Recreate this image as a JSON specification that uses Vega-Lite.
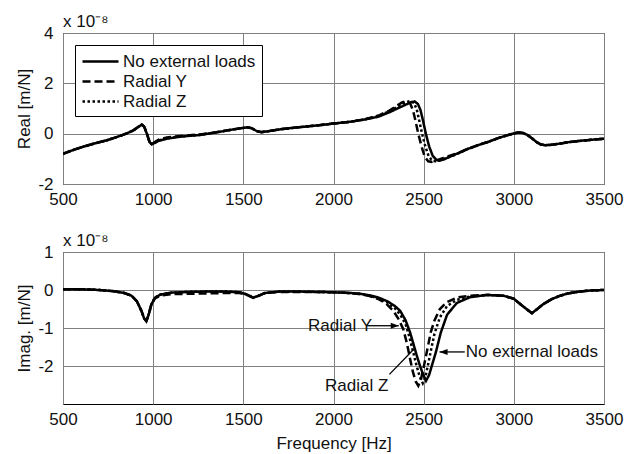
{
  "$schema": "https://vega.github.io/schema/vega-lite/v6.json",
  "background": "white",
  "padding": {"left": 15, "top": 12, "right": 5, "bottom": 3},
  "spacing": 23,
  "config": {
    "font": "Liberation Sans",
    "view": {"stroke": "black", "strokeWidth": 1},
    "axis": {
      "grid": true, "gridColor": "#808080", "gridWidth": 1, "gridOpacity": 1,
      "domain": false, "ticks": false,
      "labelFont": "Liberation Sans", "labelFontSize": 17, "labelColor": "#111",
      "titleFont": "Liberation Sans", "titleFontSize": 17, "titleFontWeight": "normal", "titleColor": "#111",
      "labelFlush": false, "labelOverlap": false, "labelExpr": "toString(datum.value)"
    },
    "title": {"font": "Liberation Sans", "fontSize": 17, "fontWeight": "normal", "color": "#111", "anchor": "start", "frame": "group", "offset": 4, "dy": 11}
  },
  "datasets": {
    "real": [
      {"s": "Radial Z", "f": 500, "v": -0.8}, {"s": "Radial Z", "f": 560, "v": -0.64}, {"s": "Radial Z", "f": 620, "v": -0.5}, {"s": "Radial Z", "f": 680, "v": -0.38}, {"s": "Radial Z", "f": 740, "v": -0.27}, {"s": "Radial Z", "f": 800, "v": -0.13}, {"s": "Radial Z", "f": 850, "v": 0.0}, {"s": "Radial Z", "f": 890, "v": 0.13}, {"s": "Radial Z", "f": 920, "v": 0.28}, {"s": "Radial Z", "f": 937, "v": 0.36}, {"s": "Radial Z", "f": 950, "v": 0.28}, {"s": "Radial Z", "f": 965, "v": 0.0}, {"s": "Radial Z", "f": 980, "v": -0.33}, {"s": "Radial Z", "f": 992, "v": -0.42}, {"s": "Radial Z", "f": 1005, "v": -0.37}, {"s": "Radial Z", "f": 1030, "v": -0.27}, {"s": "Radial Z", "f": 1075, "v": -0.18}, {"s": "Radial Z", "f": 1150, "v": -0.11}, {"s": "Radial Z", "f": 1260, "v": -0.05}, {"s": "Radial Z", "f": 1350, "v": 0.05}, {"s": "Radial Z", "f": 1445, "v": 0.17}, {"s": "Radial Z", "f": 1490, "v": 0.22}, {"s": "Radial Z", "f": 1520, "v": 0.25}, {"s": "Radial Z", "f": 1545, "v": 0.22}, {"s": "Radial Z", "f": 1575, "v": 0.1}, {"s": "Radial Z", "f": 1600, "v": 0.06}, {"s": "Radial Z", "f": 1640, "v": 0.1}, {"s": "Radial Z", "f": 1720, "v": 0.19}, {"s": "Radial Z", "f": 1800, "v": 0.25}, {"s": "Radial Z", "f": 1900, "v": 0.32}, {"s": "Radial Z", "f": 2000, "v": 0.4}, {"s": "Radial Z", "f": 2100, "v": 0.48}, {"s": "Radial Z", "f": 2180, "v": 0.58}, {"s": "Radial Z", "f": 2250, "v": 0.7}, {"s": "Radial Z", "f": 2310, "v": 0.89}, {"s": "Radial Z", "f": 2360, "v": 1.08}, {"s": "Radial Z", "f": 2395, "v": 1.23}, {"s": "Radial Z", "f": 2425, "v": 1.3}, {"s": "Radial Z", "f": 2447, "v": 1.22}, {"s": "Radial Z", "f": 2462, "v": 0.95}, {"s": "Radial Z", "f": 2476, "v": 0.5}, {"s": "Radial Z", "f": 2491, "v": 0.0}, {"s": "Radial Z", "f": 2509, "v": -0.5}, {"s": "Radial Z", "f": 2528, "v": -0.9}, {"s": "Radial Z", "f": 2548, "v": -1.08}, {"s": "Radial Z", "f": 2565, "v": -1.1}, {"s": "Radial Z", "f": 2590, "v": -1.06}, {"s": "Radial Z", "f": 2630, "v": -0.96}, {"s": "Radial Z", "f": 2670, "v": -0.85}, {"s": "Radial Z", "f": 2700, "v": -0.76}, {"s": "Radial Z", "f": 2740, "v": -0.62}, {"s": "Radial Z", "f": 2800, "v": -0.46}, {"s": "Radial Z", "f": 2860, "v": -0.32}, {"s": "Radial Z", "f": 2920, "v": -0.16}, {"s": "Radial Z", "f": 2970, "v": -0.05}, {"s": "Radial Z", "f": 3000, "v": 0.01}, {"s": "Radial Z", "f": 3025, "v": 0.05}, {"s": "Radial Z", "f": 3050, "v": 0.03}, {"s": "Radial Z", "f": 3075, "v": -0.05}, {"s": "Radial Z", "f": 3100, "v": -0.18}, {"s": "Radial Z", "f": 3125, "v": -0.33}, {"s": "Radial Z", "f": 3150, "v": -0.43}, {"s": "Radial Z", "f": 3175, "v": -0.46}, {"s": "Radial Z", "f": 3210, "v": -0.44}, {"s": "Radial Z", "f": 3260, "v": -0.39}, {"s": "Radial Z", "f": 3300, "v": -0.34}, {"s": "Radial Z", "f": 3360, "v": -0.29}, {"s": "Radial Z", "f": 3420, "v": -0.25}, {"s": "Radial Z", "f": 3500, "v": -0.2},

      {"s": "Radial Y", "f": 500, "v": -0.8}, {"s": "Radial Y", "f": 560, "v": -0.64}, {"s": "Radial Y", "f": 620, "v": -0.5}, {"s": "Radial Y", "f": 680, "v": -0.38}, {"s": "Radial Y", "f": 740, "v": -0.27}, {"s": "Radial Y", "f": 800, "v": -0.13}, {"s": "Radial Y", "f": 850, "v": 0.0}, {"s": "Radial Y", "f": 890, "v": 0.13}, {"s": "Radial Y", "f": 920, "v": 0.28}, {"s": "Radial Y", "f": 937, "v": 0.36}, {"s": "Radial Y", "f": 950, "v": 0.28}, {"s": "Radial Y", "f": 965, "v": 0.0}, {"s": "Radial Y", "f": 980, "v": -0.33}, {"s": "Radial Y", "f": 992, "v": -0.42}, {"s": "Radial Y", "f": 1005, "v": -0.35}, {"s": "Radial Y", "f": 1030, "v": -0.24}, {"s": "Radial Y", "f": 1075, "v": -0.15}, {"s": "Radial Y", "f": 1150, "v": -0.09}, {"s": "Radial Y", "f": 1260, "v": -0.03}, {"s": "Radial Y", "f": 1350, "v": 0.06}, {"s": "Radial Y", "f": 1445, "v": 0.17}, {"s": "Radial Y", "f": 1490, "v": 0.22}, {"s": "Radial Y", "f": 1520, "v": 0.25}, {"s": "Radial Y", "f": 1545, "v": 0.22}, {"s": "Radial Y", "f": 1575, "v": 0.1}, {"s": "Radial Y", "f": 1600, "v": 0.06}, {"s": "Radial Y", "f": 1640, "v": 0.1}, {"s": "Radial Y", "f": 1720, "v": 0.19}, {"s": "Radial Y", "f": 1800, "v": 0.25}, {"s": "Radial Y", "f": 1900, "v": 0.32}, {"s": "Radial Y", "f": 2000, "v": 0.4}, {"s": "Radial Y", "f": 2100, "v": 0.48}, {"s": "Radial Y", "f": 2180, "v": 0.58}, {"s": "Radial Y", "f": 2250, "v": 0.72}, {"s": "Radial Y", "f": 2310, "v": 0.92}, {"s": "Radial Y", "f": 2350, "v": 1.1}, {"s": "Radial Y", "f": 2380, "v": 1.24}, {"s": "Radial Y", "f": 2405, "v": 1.3}, {"s": "Radial Y", "f": 2425, "v": 1.2}, {"s": "Radial Y", "f": 2440, "v": 0.95}, {"s": "Radial Y", "f": 2455, "v": 0.5}, {"s": "Radial Y", "f": 2470, "v": 0.0}, {"s": "Radial Y", "f": 2488, "v": -0.5}, {"s": "Radial Y", "f": 2505, "v": -0.9}, {"s": "Radial Y", "f": 2525, "v": -1.1}, {"s": "Radial Y", "f": 2545, "v": -1.12}, {"s": "Radial Y", "f": 2570, "v": -1.06}, {"s": "Radial Y", "f": 2610, "v": -0.96}, {"s": "Radial Y", "f": 2650, "v": -0.86}, {"s": "Radial Y", "f": 2700, "v": -0.74}, {"s": "Radial Y", "f": 2740, "v": -0.62}, {"s": "Radial Y", "f": 2800, "v": -0.46}, {"s": "Radial Y", "f": 2860, "v": -0.32}, {"s": "Radial Y", "f": 2920, "v": -0.16}, {"s": "Radial Y", "f": 2970, "v": -0.05}, {"s": "Radial Y", "f": 3000, "v": 0.01}, {"s": "Radial Y", "f": 3025, "v": 0.05}, {"s": "Radial Y", "f": 3050, "v": 0.03}, {"s": "Radial Y", "f": 3075, "v": -0.05}, {"s": "Radial Y", "f": 3100, "v": -0.18}, {"s": "Radial Y", "f": 3125, "v": -0.33}, {"s": "Radial Y", "f": 3150, "v": -0.43}, {"s": "Radial Y", "f": 3175, "v": -0.46}, {"s": "Radial Y", "f": 3210, "v": -0.44}, {"s": "Radial Y", "f": 3260, "v": -0.39}, {"s": "Radial Y", "f": 3300, "v": -0.34}, {"s": "Radial Y", "f": 3360, "v": -0.29}, {"s": "Radial Y", "f": 3420, "v": -0.25}, {"s": "Radial Y", "f": 3500, "v": -0.2},

      {"s": "No external loads", "f": 500, "v": -0.8}, {"s": "No external loads", "f": 560, "v": -0.64}, {"s": "No external loads", "f": 620, "v": -0.5}, {"s": "No external loads", "f": 680, "v": -0.38}, {"s": "No external loads", "f": 740, "v": -0.27}, {"s": "No external loads", "f": 800, "v": -0.13}, {"s": "No external loads", "f": 850, "v": 0.0}, {"s": "No external loads", "f": 890, "v": 0.13}, {"s": "No external loads", "f": 920, "v": 0.28}, {"s": "No external loads", "f": 937, "v": 0.36}, {"s": "No external loads", "f": 950, "v": 0.28}, {"s": "No external loads", "f": 965, "v": 0.0}, {"s": "No external loads", "f": 980, "v": -0.33}, {"s": "No external loads", "f": 992, "v": -0.42}, {"s": "No external loads", "f": 1005, "v": -0.38}, {"s": "No external loads", "f": 1030, "v": -0.29}, {"s": "No external loads", "f": 1075, "v": -0.2}, {"s": "No external loads", "f": 1150, "v": -0.12}, {"s": "No external loads", "f": 1260, "v": -0.05}, {"s": "No external loads", "f": 1350, "v": 0.05}, {"s": "No external loads", "f": 1445, "v": 0.17}, {"s": "No external loads", "f": 1490, "v": 0.22}, {"s": "No external loads", "f": 1520, "v": 0.25}, {"s": "No external loads", "f": 1545, "v": 0.22}, {"s": "No external loads", "f": 1575, "v": 0.1}, {"s": "No external loads", "f": 1600, "v": 0.06}, {"s": "No external loads", "f": 1640, "v": 0.1}, {"s": "No external loads", "f": 1720, "v": 0.19}, {"s": "No external loads", "f": 1800, "v": 0.25}, {"s": "No external loads", "f": 1900, "v": 0.32}, {"s": "No external loads", "f": 2000, "v": 0.4}, {"s": "No external loads", "f": 2100, "v": 0.48}, {"s": "No external loads", "f": 2180, "v": 0.57}, {"s": "No external loads", "f": 2250, "v": 0.68}, {"s": "No external loads", "f": 2310, "v": 0.85}, {"s": "No external loads", "f": 2360, "v": 1.02}, {"s": "No external loads", "f": 2400, "v": 1.15}, {"s": "No external loads", "f": 2430, "v": 1.25}, {"s": "No external loads", "f": 2450, "v": 1.28}, {"s": "No external loads", "f": 2468, "v": 1.18}, {"s": "No external loads", "f": 2482, "v": 0.95}, {"s": "No external loads", "f": 2497, "v": 0.5}, {"s": "No external loads", "f": 2512, "v": 0.0}, {"s": "No external loads", "f": 2530, "v": -0.5}, {"s": "No external loads", "f": 2550, "v": -0.88}, {"s": "No external loads", "f": 2570, "v": -1.04}, {"s": "No external loads", "f": 2585, "v": -1.07}, {"s": "No external loads", "f": 2610, "v": -1.03}, {"s": "No external loads", "f": 2650, "v": -0.9}, {"s": "No external loads", "f": 2700, "v": -0.75}, {"s": "No external loads", "f": 2740, "v": -0.62}, {"s": "No external loads", "f": 2800, "v": -0.46}, {"s": "No external loads", "f": 2860, "v": -0.32}, {"s": "No external loads", "f": 2920, "v": -0.16}, {"s": "No external loads", "f": 2970, "v": -0.05}, {"s": "No external loads", "f": 3000, "v": 0.01}, {"s": "No external loads", "f": 3025, "v": 0.05}, {"s": "No external loads", "f": 3050, "v": 0.03}, {"s": "No external loads", "f": 3075, "v": -0.05}, {"s": "No external loads", "f": 3100, "v": -0.18}, {"s": "No external loads", "f": 3125, "v": -0.33}, {"s": "No external loads", "f": 3150, "v": -0.43}, {"s": "No external loads", "f": 3175, "v": -0.46}, {"s": "No external loads", "f": 3210, "v": -0.44}, {"s": "No external loads", "f": 3260, "v": -0.39}, {"s": "No external loads", "f": 3300, "v": -0.34}, {"s": "No external loads", "f": 3360, "v": -0.29}, {"s": "No external loads", "f": 3420, "v": -0.25}, {"s": "No external loads", "f": 3500, "v": -0.2}
    ],
    "imag": [
      {"s": "Radial Z", "f": 500, "v": 0.02}, {"s": "Radial Z", "f": 600, "v": 0.02}, {"s": "Radial Z", "f": 700, "v": 0.0}, {"s": "Radial Z", "f": 780, "v": -0.03}, {"s": "Radial Z", "f": 840, "v": -0.08}, {"s": "Radial Z", "f": 880, "v": -0.15}, {"s": "Radial Z", "f": 910, "v": -0.3}, {"s": "Radial Z", "f": 935, "v": -0.55}, {"s": "Radial Z", "f": 950, "v": -0.75}, {"s": "Radial Z", "f": 962, "v": -0.82}, {"s": "Radial Z", "f": 975, "v": -0.65}, {"s": "Radial Z", "f": 990, "v": -0.38}, {"s": "Radial Z", "f": 1010, "v": -0.2}, {"s": "Radial Z", "f": 1040, "v": -0.12}, {"s": "Radial Z", "f": 1100, "v": -0.07}, {"s": "Radial Z", "f": 1200, "v": -0.05}, {"s": "Radial Z", "f": 1300, "v": -0.04}, {"s": "Radial Z", "f": 1400, "v": -0.04}, {"s": "Radial Z", "f": 1480, "v": -0.06}, {"s": "Radial Z", "f": 1520, "v": -0.12}, {"s": "Radial Z", "f": 1555, "v": -0.2}, {"s": "Radial Z", "f": 1580, "v": -0.16}, {"s": "Radial Z", "f": 1620, "v": -0.08}, {"s": "Radial Z", "f": 1700, "v": -0.04}, {"s": "Radial Z", "f": 1800, "v": -0.04}, {"s": "Radial Z", "f": 1900, "v": -0.05}, {"s": "Radial Z", "f": 2000, "v": -0.06}, {"s": "Radial Z", "f": 2100, "v": -0.08}, {"s": "Radial Z", "f": 2150, "v": -0.1}, {"s": "Radial Z", "f": 2200, "v": -0.15}, {"s": "Radial Z", "f": 2250, "v": -0.22}, {"s": "Radial Z", "f": 2300, "v": -0.33}, {"s": "Radial Z", "f": 2340, "v": -0.48}, {"s": "Radial Z", "f": 2370, "v": -0.65}, {"s": "Radial Z", "f": 2400, "v": -0.9}, {"s": "Radial Z", "f": 2420, "v": -1.22}, {"s": "Radial Z", "f": 2440, "v": -1.6}, {"s": "Radial Z", "f": 2460, "v": -1.98}, {"s": "Radial Z", "f": 2478, "v": -2.28}, {"s": "Radial Z", "f": 2495, "v": -2.45}, {"s": "Radial Z", "f": 2510, "v": -2.28}, {"s": "Radial Z", "f": 2525, "v": -1.95}, {"s": "Radial Z", "f": 2542, "v": -1.55}, {"s": "Radial Z", "f": 2560, "v": -1.15}, {"s": "Radial Z", "f": 2590, "v": -0.72}, {"s": "Radial Z", "f": 2630, "v": -0.42}, {"s": "Radial Z", "f": 2684, "v": -0.26}, {"s": "Radial Z", "f": 2757, "v": -0.17}, {"s": "Radial Z", "f": 2850, "v": -0.13}, {"s": "Radial Z", "f": 2942, "v": -0.15}, {"s": "Radial Z", "f": 3000, "v": -0.23}, {"s": "Radial Z", "f": 3035, "v": -0.37}, {"s": "Radial Z", "f": 3070, "v": -0.5}, {"s": "Radial Z", "f": 3100, "v": -0.61}, {"s": "Radial Z", "f": 3130, "v": -0.5}, {"s": "Radial Z", "f": 3164, "v": -0.37}, {"s": "Radial Z", "f": 3210, "v": -0.24}, {"s": "Radial Z", "f": 3257, "v": -0.15}, {"s": "Radial Z", "f": 3300, "v": -0.09}, {"s": "Radial Z", "f": 3367, "v": -0.04}, {"s": "Radial Z", "f": 3430, "v": -0.01}, {"s": "Radial Z", "f": 3500, "v": 0.0},

      {"s": "Radial Y", "f": 500, "v": 0.02}, {"s": "Radial Y", "f": 600, "v": 0.02}, {"s": "Radial Y", "f": 700, "v": 0.0}, {"s": "Radial Y", "f": 780, "v": -0.03}, {"s": "Radial Y", "f": 840, "v": -0.08}, {"s": "Radial Y", "f": 880, "v": -0.15}, {"s": "Radial Y", "f": 910, "v": -0.3}, {"s": "Radial Y", "f": 935, "v": -0.55}, {"s": "Radial Y", "f": 950, "v": -0.75}, {"s": "Radial Y", "f": 962, "v": -0.82}, {"s": "Radial Y", "f": 975, "v": -0.65}, {"s": "Radial Y", "f": 990, "v": -0.38}, {"s": "Radial Y", "f": 1010, "v": -0.22}, {"s": "Radial Y", "f": 1040, "v": -0.15}, {"s": "Radial Y", "f": 1100, "v": -0.11}, {"s": "Radial Y", "f": 1200, "v": -0.1}, {"s": "Radial Y", "f": 1300, "v": -0.09}, {"s": "Radial Y", "f": 1400, "v": -0.08}, {"s": "Radial Y", "f": 1480, "v": -0.08}, {"s": "Radial Y", "f": 1520, "v": -0.13}, {"s": "Radial Y", "f": 1555, "v": -0.21}, {"s": "Radial Y", "f": 1580, "v": -0.16}, {"s": "Radial Y", "f": 1620, "v": -0.08}, {"s": "Radial Y", "f": 1700, "v": -0.05}, {"s": "Radial Y", "f": 1800, "v": -0.05}, {"s": "Radial Y", "f": 1900, "v": -0.05}, {"s": "Radial Y", "f": 2000, "v": -0.06}, {"s": "Radial Y", "f": 2100, "v": -0.08}, {"s": "Radial Y", "f": 2150, "v": -0.11}, {"s": "Radial Y", "f": 2200, "v": -0.16}, {"s": "Radial Y", "f": 2250, "v": -0.24}, {"s": "Radial Y", "f": 2290, "v": -0.35}, {"s": "Radial Y", "f": 2332, "v": -0.55}, {"s": "Radial Y", "f": 2360, "v": -0.76}, {"s": "Radial Y", "f": 2387, "v": -1.03}, {"s": "Radial Y", "f": 2407, "v": -1.4}, {"s": "Radial Y", "f": 2425, "v": -1.82}, {"s": "Radial Y", "f": 2440, "v": -2.15}, {"s": "Radial Y", "f": 2455, "v": -2.4}, {"s": "Radial Y", "f": 2470, "v": -2.52}, {"s": "Radial Y", "f": 2485, "v": -2.35}, {"s": "Radial Y", "f": 2497, "v": -2.1}, {"s": "Radial Y", "f": 2510, "v": -1.8}, {"s": "Radial Y", "f": 2525, "v": -1.45}, {"s": "Radial Y", "f": 2540, "v": -1.1}, {"s": "Radial Y", "f": 2560, "v": -0.8}, {"s": "Radial Y", "f": 2590, "v": -0.5}, {"s": "Radial Y", "f": 2628, "v": -0.32}, {"s": "Radial Y", "f": 2684, "v": -0.2}, {"s": "Radial Y", "f": 2757, "v": -0.15}, {"s": "Radial Y", "f": 2850, "v": -0.13}, {"s": "Radial Y", "f": 2942, "v": -0.15}, {"s": "Radial Y", "f": 3000, "v": -0.23}, {"s": "Radial Y", "f": 3035, "v": -0.37}, {"s": "Radial Y", "f": 3070, "v": -0.5}, {"s": "Radial Y", "f": 3100, "v": -0.61}, {"s": "Radial Y", "f": 3130, "v": -0.5}, {"s": "Radial Y", "f": 3164, "v": -0.37}, {"s": "Radial Y", "f": 3210, "v": -0.24}, {"s": "Radial Y", "f": 3257, "v": -0.15}, {"s": "Radial Y", "f": 3300, "v": -0.09}, {"s": "Radial Y", "f": 3367, "v": -0.04}, {"s": "Radial Y", "f": 3430, "v": -0.01}, {"s": "Radial Y", "f": 3500, "v": 0.0},

      {"s": "No external loads", "f": 500, "v": 0.02}, {"s": "No external loads", "f": 600, "v": 0.02}, {"s": "No external loads", "f": 700, "v": 0.0}, {"s": "No external loads", "f": 780, "v": -0.03}, {"s": "No external loads", "f": 840, "v": -0.08}, {"s": "No external loads", "f": 880, "v": -0.15}, {"s": "No external loads", "f": 910, "v": -0.3}, {"s": "No external loads", "f": 935, "v": -0.55}, {"s": "No external loads", "f": 950, "v": -0.75}, {"s": "No external loads", "f": 962, "v": -0.82}, {"s": "No external loads", "f": 975, "v": -0.65}, {"s": "No external loads", "f": 990, "v": -0.38}, {"s": "No external loads", "f": 1010, "v": -0.2}, {"s": "No external loads", "f": 1040, "v": -0.12}, {"s": "No external loads", "f": 1100, "v": -0.07}, {"s": "No external loads", "f": 1200, "v": -0.05}, {"s": "No external loads", "f": 1300, "v": -0.04}, {"s": "No external loads", "f": 1400, "v": -0.04}, {"s": "No external loads", "f": 1480, "v": -0.06}, {"s": "No external loads", "f": 1520, "v": -0.12}, {"s": "No external loads", "f": 1555, "v": -0.2}, {"s": "No external loads", "f": 1580, "v": -0.16}, {"s": "No external loads", "f": 1620, "v": -0.08}, {"s": "No external loads", "f": 1700, "v": -0.04}, {"s": "No external loads", "f": 1800, "v": -0.04}, {"s": "No external loads", "f": 1900, "v": -0.05}, {"s": "No external loads", "f": 2000, "v": -0.06}, {"s": "No external loads", "f": 2100, "v": -0.08}, {"s": "No external loads", "f": 2150, "v": -0.1}, {"s": "No external loads", "f": 2200, "v": -0.14}, {"s": "No external loads", "f": 2250, "v": -0.2}, {"s": "No external loads", "f": 2300, "v": -0.3}, {"s": "No external loads", "f": 2340, "v": -0.42}, {"s": "No external loads", "f": 2370, "v": -0.55}, {"s": "No external loads", "f": 2400, "v": -0.8}, {"s": "No external loads", "f": 2425, "v": -1.12}, {"s": "No external loads", "f": 2445, "v": -1.45}, {"s": "No external loads", "f": 2462, "v": -1.73}, {"s": "No external loads", "f": 2480, "v": -2.0}, {"s": "No external loads", "f": 2495, "v": -2.2}, {"s": "No external loads", "f": 2513, "v": -2.39}, {"s": "No external loads", "f": 2530, "v": -2.24}, {"s": "No external loads", "f": 2548, "v": -1.95}, {"s": "No external loads", "f": 2568, "v": -1.63}, {"s": "No external loads", "f": 2595, "v": -1.12}, {"s": "No external loads", "f": 2630, "v": -0.65}, {"s": "No external loads", "f": 2684, "v": -0.34}, {"s": "No external loads", "f": 2757, "v": -0.19}, {"s": "No external loads", "f": 2850, "v": -0.13}, {"s": "No external loads", "f": 2942, "v": -0.15}, {"s": "No external loads", "f": 3000, "v": -0.23}, {"s": "No external loads", "f": 3035, "v": -0.37}, {"s": "No external loads", "f": 3070, "v": -0.5}, {"s": "No external loads", "f": 3100, "v": -0.61}, {"s": "No external loads", "f": 3130, "v": -0.5}, {"s": "No external loads", "f": 3164, "v": -0.37}, {"s": "No external loads", "f": 3210, "v": -0.24}, {"s": "No external loads", "f": 3257, "v": -0.15}, {"s": "No external loads", "f": 3300, "v": -0.09}, {"s": "No external loads", "f": 3367, "v": -0.04}, {"s": "No external loads", "f": 3430, "v": -0.01}, {"s": "No external loads", "f": 3500, "v": 0.0}
    ],
    "notes": [
      {"label": "Radial Y", "f": 1859, "v": -0.94},
      {"label": "Radial Z", "f": 1953, "v": -2.52},
      {"label": "No external loads", "f": 2733, "v": -1.63}
    ],
    "leaders": [
      {"f": 2186, "v": -0.94, "f2": 2362, "v2": -0.94},
      {"f": 2310, "v": -2.22, "f2": 2445, "v2": -1.56},
      {"f": 2588, "v": -1.63, "f2": 2728, "v2": -1.63}
    ]
  },
  "resolve": {"scale": {"strokeDash": "independent"}, "legend": {"strokeDash": "independent"}},
  "vconcat": [
    {
      "width": 541, "height": 151,
      "title": {"text": "x 10⁻⁸"},
      "data": {"name": "real"},
      "mark": {"type": "line", "stroke": "black", "strokeWidth": 2.5, "clip": true},
      "encoding": {
        "x": {"field": "f", "type": "quantitative", "scale": {"domain": [500, 3500], "nice": false},
              "axis": {"values": [500, 1000, 1500, 2000, 2500, 3000, 3500], "title": null, "labelPadding": 7}},
        "y": {"field": "v", "type": "quantitative", "scale": {"domain": [-2, 4], "nice": false, "zero": false},
              "axis": {"values": [-2, 0, 2, 4], "title": "Real [m/N]", "labelPadding": 10, "titlePadding": 4}},
        "strokeDash": {"field": "s", "type": "nominal",
              "scale": {"domain": ["No external loads", "Radial Y", "Radial Z"], "range": [[1, 0], [8, 4], [2.5, 2.5]]},
              "legend": {"title": null, "orient": "top-left", "offset": 12, "padding": 6, "fillColor": "white", "strokeColor": "black",
                         "symbolType": "M-1,0L3,0", "symbolSize": 324, "symbolStrokeWidth": 2.5, "symbolStrokeColor": "black",
                         "labelFont": "Liberation Sans", "labelFontSize": 17, "labelColor": "#111", "labelOffset": 21, "rowPadding": 1}}
      }
    },
    {
      "width": 541, "height": 152,
      "title": {"text": "x 10⁻⁸"},
      "layer": [
        {
          "data": {"name": "imag"},
          "mark": {"type": "line", "stroke": "black", "strokeWidth": 2.5, "clip": true},
          "encoding": {
            "x": {"field": "f", "type": "quantitative", "scale": {"domain": [500, 3500], "nice": false},
                  "axis": {"values": [500, 1000, 1500, 2000, 2500, 3000, 3500], "title": "Frequency [Hz]", "labelPadding": 7, "titlePadding": 8}},
            "y": {"field": "v", "type": "quantitative", "scale": {"domain": [-3, 1], "nice": false, "zero": false},
                  "axis": {"values": [-2, -1, 0, 1], "title": "Imag. [m/N]", "labelPadding": 10, "titlePadding": 4}},
            "strokeDash": {"field": "s", "type": "nominal",
                  "scale": {"domain": ["No external loads", "Radial Y", "Radial Z"], "range": [[1, 0], [8, 4], [2.5, 2.5]]},
                  "legend": null}
          }
        },
        {
          "data": {"name": "leaders"},
          "mark": {"type": "rule", "stroke": "black", "strokeWidth": 1.3},
          "encoding": {
            "x": {"field": "f", "type": "quantitative"},
            "y": {"field": "v", "type": "quantitative"},
            "x2": {"field": "f2"},
            "y2": {"field": "v2"}
          }
        },
        {
          "data": {"values": [{"f": 2362, "v": -0.94}]},
          "mark": {"type": "point", "shape": "M0,0L-2,-0.75L-2,0.75Z", "size": 64, "filled": true, "fill": "black", "stroke": null, "opacity": 1},
          "encoding": {
            "x": {"field": "f", "type": "quantitative"},
            "y": {"field": "v", "type": "quantitative"}
          }
        },
        {
          "data": {"values": [{"f": 2588, "v": -1.63}]},
          "mark": {"type": "point", "shape": "M0,0L2,-0.75L2,0.75Z", "size": 64, "filled": true, "fill": "black", "stroke": null, "opacity": 1},
          "encoding": {
            "x": {"field": "f", "type": "quantitative"},
            "y": {"field": "v", "type": "quantitative"}
          }
        },
        {
          "data": {"name": "notes"},
          "mark": {"type": "text", "align": "left", "baseline": "middle", "font": "Liberation Sans", "fontSize": 17, "color": "#111"},
          "encoding": {
            "x": {"field": "f", "type": "quantitative"},
            "y": {"field": "v", "type": "quantitative"},
            "text": {"field": "label"}
          }
        }
      ]
    }
  ]
}
